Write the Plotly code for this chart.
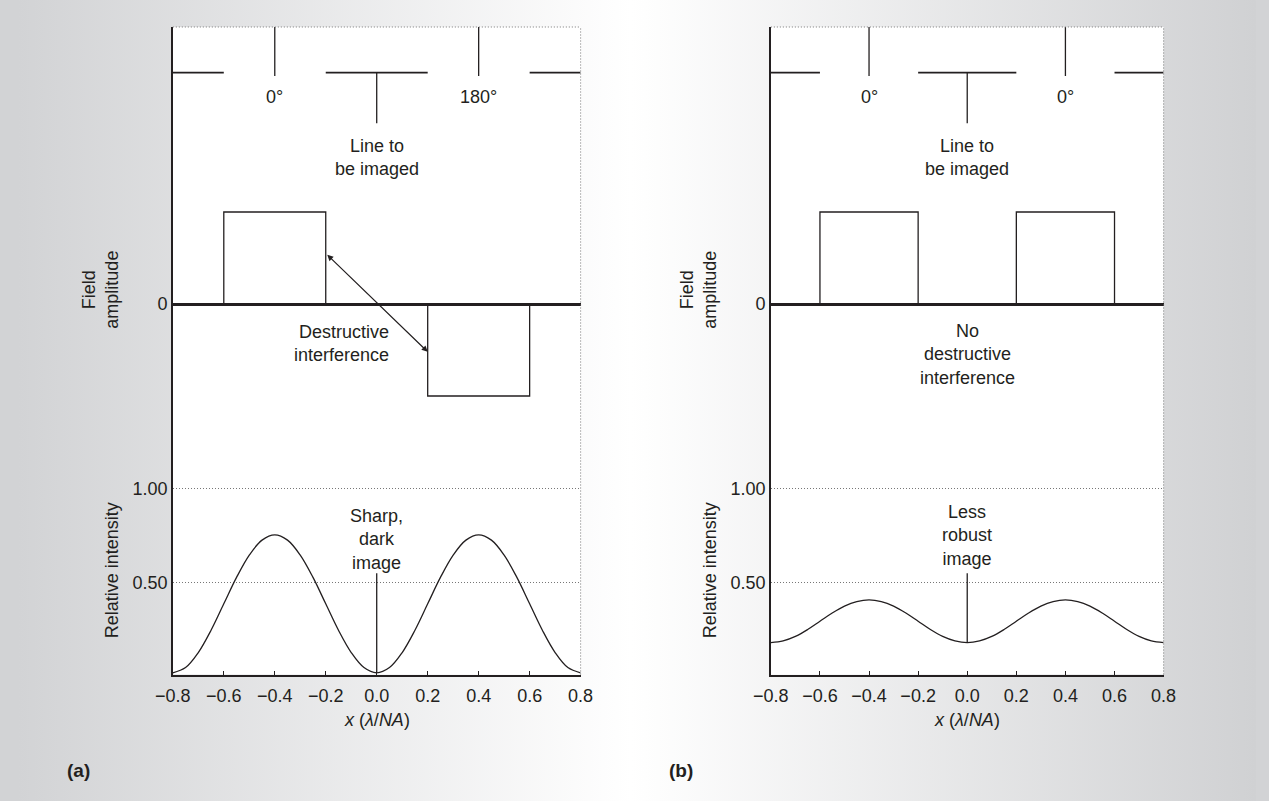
import base64
import plotly.graph_objects as go

W, H = 1269, 801

# ------------------------------------------------------------------ data
x_ticks = [-0.8, -0.6, -0.4, -0.2, 0.0, 0.2, 0.4, 0.6, 0.8]
x_tick_labels = ["\u22120.8", "\u22120.6", "\u22120.4", "\u22120.2", "0.0", "0.2", "0.4", "0.6", "0.8"]

chrome_segments = [(-0.8, -0.6), (-0.2, 0.2), (0.6, 0.8)]   # opaque parts of the mask
openings = [(-0.6, -0.2), (0.2, 0.6)]                         # clear parts of the mask
opening_centers = [-0.4, 0.4]
phase_labels_a = ["0\u00b0", "180\u00b0"]
phase_labels_b = ["0\u00b0", "0\u00b0"]
field_amp_a = [1, -1]
field_amp_b = [1, 1]

x_samples = [-0.80, -0.75, -0.70, -0.65, -0.60, -0.55, -0.50, -0.45, -0.40,
             -0.35, -0.30, -0.25, -0.20, -0.15, -0.10, -0.05, 0.00,
             0.05, 0.10, 0.15, 0.20, 0.25, 0.30, 0.35, 0.40,
             0.45, 0.50, 0.55, 0.60, 0.65, 0.70, 0.75, 0.80]
intensity_a = [0.019, 0.047, 0.127, 0.246, 0.387, 0.528, 0.647, 0.727, 0.755,
               0.727, 0.647, 0.528, 0.387, 0.246, 0.127, 0.047, 0.019,
               0.047, 0.127, 0.246, 0.387, 0.528, 0.647, 0.727, 0.755,
               0.727, 0.647, 0.528, 0.387, 0.246, 0.127, 0.047, 0.019]
intensity_b = [0.180, 0.189, 0.213, 0.250, 0.294, 0.338, 0.375, 0.399, 0.408,
               0.399, 0.375, 0.338, 0.294, 0.250, 0.213, 0.189, 0.180,
               0.189, 0.213, 0.250, 0.294, 0.338, 0.375, 0.399, 0.408,
               0.399, 0.375, 0.338, 0.294, 0.250, 0.213, 0.189, 0.180]

# ------------------------------------------------------------------ style / layout helpers
INK = "#231f20"
FONT = "Liberation Sans, Arial, Helvetica, sans-serif"
FS = 18


def px_x(p):
    return p / W


def px_y(p):
    return 1 - p / H


def txt(**kw):
    base = dict(showarrow=False, xanchor="center", yanchor="middle",
                font=dict(size=FS, color=INK, family=FONT))
    base.update(kw)
    return base


TOP, B_MASK, B_AMP, BOTTOM = 27, 190, 442.1, 674.5
panels = [
    dict(x0=158.7, x1=576.7, phases=phase_labels_a, amps=field_amp_a, inten=intensity_a,
         note="Sharp,<br>dark<br>image", note_y=0.73, tag="(a)", tag_x=62),
    dict(x0=771.7, x1=1174.3, phases=phase_labels_b, amps=field_amp_b, inten=intensity_b,
         note="Less<br>robust<br>image", note_y=0.75, tag="(b)", tag_x=680),
]

fig = go.Figure()
annotations = []
shapes = []
layout_axes = {}

MASK_LEVEL, MARK_BOTTOM, CENTER_BOTTOM = 0.72, 0.70, 0.41

for i, p in enumerate(panels):
    xn = "x" if i == 0 else "x2"
    yi = 1 + 3 * i
    yI, yA, yM = ("y" if yi == 1 else f"y{yi}"), f"y{yi + 1}", f"y{yi + 2}"
    xdom = [px_x(p["x0"]), px_x(p["x1"])]

    # ---- mask (top band)
    mx, my = [], []
    for a, b in chrome_segments:
        mx += [a, b, None]
        my += [MASK_LEVEL, MASK_LEVEL, None]
    fig.add_trace(go.Scatter(x=mx, y=my, xaxis=xn, yaxis=yM, mode="lines",
                             line=dict(color=INK, width=1.6), hoverinfo="skip"))
    vx, vy = [], []
    for c in opening_centers:
        vx += [c, c, None]
        vy += [1.0, MARK_BOTTOM, None]
    vx += [0.0, 0.0]
    vy += [MASK_LEVEL, CENTER_BOTTOM]
    fig.add_trace(go.Scatter(x=vx, y=vy, xaxis=xn, yaxis=yM, mode="lines",
                             line=dict(color=INK, width=1.3), hoverinfo="skip"))
    for c, lab in zip(opening_centers, p["phases"]):
        annotations.append(txt(x=c, y=0.571, xref=xn, yref=yM, text=lab))
    annotations.append(txt(x=0, y=0.20, xref=xn, yref=yM, text="Line to<br>be imaged"))

    # ---- field amplitude
    fx, fy = [], []
    for (a, b), amp in zip(openings, p["amps"]):
        fx += [a, a, b, b, None]
        fy += [0, amp, amp, 0, None]
    fig.add_trace(go.Scatter(x=fx, y=fy, xaxis=xn, yaxis=yA, mode="lines",
                             line=dict(color=INK, width=1.3), hoverinfo="skip"))

    # ---- intensity
    fig.add_trace(go.Scatter(x=x_samples, y=p["inten"], xaxis=xn, yaxis=yI, mode="lines",
                             line=dict(color=INK, width=1.3, shape="spline", smoothing=1),
                             hoverinfo="skip"))
    centre_val = p["inten"][x_samples.index(0.0)]
    fig.add_trace(go.Scatter(x=[0, 0], y=[0.55, centre_val], xaxis=xn, yaxis=yI, mode="lines",
                             line=dict(color=INK, width=1.3), hoverinfo="skip"))
    annotations.append(txt(x=0, y=p["note_y"], xref=xn, yref=yI, text=p["note"]))

    # ---- axes
    xkey = "xaxis" if i == 0 else "xaxis2"
    layout_axes[xkey] = dict(domain=xdom, range=[-0.8, 0.8], anchor=yI, showgrid=False,
                             zeroline=False, showline=True, linecolor=INK, linewidth=1.5,
                             ticks="inside", ticklen=4, tickwidth=1.3, tickcolor=INK,
                             tickvals=x_ticks, ticktext=x_tick_labels, ticklabelstandoff=4,
                             tickfont=dict(size=FS, color=INK, family=FONT))
    kI = "yaxis" if yi == 1 else f"yaxis{yi}"
    layout_axes[kI] = dict(domain=[px_y(BOTTOM), px_y(B_AMP)], range=[0.01, 1.25], anchor=xn,
                           showline=True, linecolor=INK, linewidth=1.5, zeroline=False,
                           tickvals=[0.5, 1.0], ticktext=["0.50", "1.00"], ticks="",
                           showgrid=True, griddash="1px,2px", gridcolor="#777777", gridwidth=1,
                           tickfont=dict(size=FS, color=INK, family=FONT))
    layout_axes[f"yaxis{yi + 1}"] = dict(domain=[px_y(B_AMP), px_y(B_MASK)], range=[-1.501, 1.239],
                                         anchor=xn, showline=True, linecolor=INK, linewidth=1.5,
                                         showgrid=False, zeroline=True, zerolinecolor=INK,
                                         zerolinewidth=2.6, tickvals=[0], ticktext=["0"], ticks="",
                                         tickfont=dict(size=FS, color=INK, family=FONT))
    layout_axes[f"yaxis{yi + 2}"] = dict(domain=[px_y(B_MASK), px_y(TOP)], range=[0, 1], anchor=xn,
                                         showline=True, linecolor=INK, linewidth=1.5,
                                         showgrid=False, zeroline=False, showticklabels=False,
                                         ticks="")

    # white plot area + dotted top/right borders
    shapes.append(dict(type="rect", xref="paper", yref="paper", x0=xdom[0], x1=xdom[1],
                       y0=px_y(BOTTOM), y1=px_y(TOP), fillcolor="white", line=dict(width=0),
                       layer="below"))
    shapes.append(dict(type="line", xref="paper", yref="paper", x0=xdom[0], x1=xdom[1],
                       y0=px_y(TOP), y1=px_y(TOP), line=dict(color="#777777", width=1, dash="1px,2px")))
    shapes.append(dict(type="line", xref="paper", yref="paper", x0=xdom[1], x1=xdom[1],
                       y0=px_y(BOTTOM), y1=px_y(TOP), line=dict(color="#777777", width=1, dash="1px,2px")))

    # axis titles
    ax0 = p["x0"]
    annotations.append(txt(x=px_x(ax0 - 62), y=px_y(570), xref="paper", yref="paper",
                           text="Relative intensity", textangle=-90))
    annotations.append(txt(x=px_x(ax0 - 75), y=px_y(290), xref="paper", yref="paper",
                           text="Field<br>amplitude", textangle=-90))
    annotations.append(txt(x=0, y=px_y(720), xref=xn, yref="paper",
                           text="<i>x</i> (<i>\u03bb</i>/<i>NA</i>)"))
    annotations.append(txt(x=px_x(p["tag_x"]), y=px_y(770), xref="paper", yref="paper",
                           text="<b>" + p["tag"] + "</b>",
                           font=dict(size=19, color=INK,
                                     family="Liberation Sans Narrow, Arial Narrow, sans-serif")))

# panel (a) notes
annotations.append(txt(x=0.055, y=-0.43, xref="x", yref="y2", text="Destructive<br>interference",
                       xanchor="right", align="right"))
annotations.append(dict(x=0.2, y=-0.52, ax=-0.2, ay=0.55, xref="x", yref="y2", axref="x", ayref="y2",
                        text="", showarrow=True, arrowhead=2, startarrowhead=2, arrowside="end+start",
                        arrowsize=1, arrowwidth=1.2, arrowcolor=INK, standoff=0, startstandoff=0))
# panel (b) note
annotations.append(txt(x=0, y=-0.554, xref="x2", yref="y5", text="No<br>destructive<br>interference"))

svg = (f'<svg xmlns="http://www.w3.org/2000/svg" viewBox="0 0 {W} {H}" '
       f'width="{W}" height="{H}" preserveAspectRatio="none">'
       '<defs><linearGradient id="g" x1="0" y1="0" x2="1" y2="0">'
       '<stop offset="0" stop-color="#d2d3d5"/><stop offset="0.495" stop-color="#ffffff"/>'
       '<stop offset="1" stop-color="#d0d1d3"/></linearGradient></defs>'
       f'<rect x="0" y="0" width="{W}" height="{H}" fill="url(#g)"/></svg>')
bg_src = "data:image/svg+xml;base64," + base64.b64encode(svg.encode()).decode()

fig.update_layout(
    width=W, height=H, margin=dict(l=0, r=0, t=0, b=0),
    paper_bgcolor="#d2d3d5", plot_bgcolor="rgba(0,0,0,0)",
    showlegend=False, annotations=annotations, shapes=shapes,
    font=dict(family=FONT, size=FS, color=INK),
    images=[dict(source=bg_src, xref="paper", yref="paper", x=0, y=1, sizex=1, sizey=1,
                 xanchor="left", yanchor="top", sizing="stretch", layer="below")],
    **layout_axes,
)

fig.write_html("out.html", config={"displayModeBar": False},
               post_script="document.body.style.margin='0';document.body.style.overflow='hidden';")
